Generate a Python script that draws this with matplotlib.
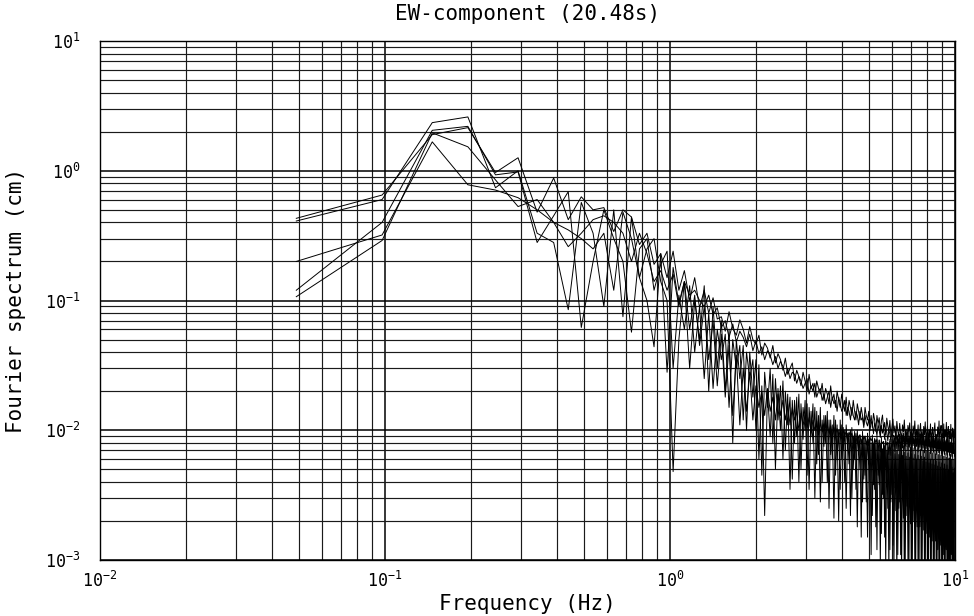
import numpy as np
import matplotlib
matplotlib.use('Agg')
import matplotlib.pyplot as plt
from matplotlib.ticker import LogLocator, NullFormatter

plt.rcParams['font.family'] = ['DejaVu Sans Mono']
plt.rcParams['mathtext.default'] = 'regular'

# record length 20.48 s -> frequency step 1/20.48 Hz
duration = 20.48
freq = np.arange(1, 205) / duration

# Fourier spectra (cm), five records
spec_a = [0.43, 0.65, 1.90, 2.15, 0.97, 1.26, 0.48, 0.88, 0.42, 0.63,
          0.50, 0.52, 0.34, 0.50, 0.44, 0.27, 0.33, 0.19, 0.23, 0.15,
          0.24, 0.12, 0.17, 0.10, 0.15, 0.088, 0.12, 0.080, 0.105, 0.072,
          0.075, 0.058, 0.082, 0.061, 0.054, 0.071, 0.060, 0.047, 0.063, 0.050,
          0.046, 0.054, 0.038, 0.047, 0.043, 0.036, 0.045, 0.033, 0.039, 0.035,
          0.029, 0.036, 0.027, 0.030, 0.033, 0.024, 0.029, 0.026, 0.022, 0.028,
          0.024, 0.020, 0.027, 0.021, 0.023, 0.018, 0.024, 0.021, 0.019, 0.023,
          0.017, 0.021, 0.019, 0.016, 0.022, 0.017, 0.019, 0.015, 0.020, 0.017,
          0.015, 0.019, 0.016, 0.014, 0.018, 0.013, 0.017, 0.015, 0.013, 0.017,
          0.014, 0.012, 0.016, 0.014, 0.012, 0.015, 0.013, 0.011, 0.015, 0.013,
          0.012, 0.014, 0.011, 0.013, 0.0105, 0.0135, 0.012, 0.0098, 0.013, 0.0112,
          0.0125, 0.0096, 0.0118, 0.0131, 0.0102, 0.0115, 0.0092, 0.0124, 0.0108, 0.0097,
          0.0119, 0.0091, 0.0106, 0.0122, 0.0095, 0.0108, 0.0086, 0.0117, 0.0099, 0.0089,
          0.0113, 0.0094, 0.0085, 0.0110, 0.0097, 0.0120, 0.0088, 0.0102, 0.0083, 0.0109,
          0.0095, 0.0114, 0.0087, 0.0099, 0.0081, 0.0108, 0.0093, 0.0118, 0.0084, 0.0101,
          0.0089, 0.0110, 0.0080, 0.0097, 0.0113, 0.0085, 0.0099, 0.0079, 0.0107, 0.0092,
          0.0116, 0.0083, 0.0096, 0.0108, 0.0078, 0.0101, 0.0088, 0.0112, 0.0082, 0.0095,
          0.0105, 0.0077, 0.0099, 0.0114, 0.0086, 0.0093, 0.0076, 0.0106, 0.0090, 0.0118,
          0.0081, 0.0097, 0.0109, 0.0079, 0.0094, 0.0087, 0.0112, 0.0075, 0.0100, 0.0091,
          0.0115, 0.0080, 0.0096, 0.0107, 0.0074, 0.0098, 0.0086, 0.0111, 0.0078, 0.0093,
          0.0104, 0.0076, 0.0099, 0.0088]

spec_b = [0.41, 0.60, 2.35, 2.60, 0.74, 1.00, 0.33, 0.28, 0.085, 0.57,
          0.33, 0.09, 0.50, 0.075, 0.44, 0.15, 0.10, 0.044, 0.23, 0.028,
          0.18, 0.095, 0.14, 0.11, 0.12, 0.10, 0.09, 0.11, 0.078, 0.088,
          0.062, 0.070, 0.052, 0.066, 0.048, 0.058, 0.052, 0.044, 0.055, 0.041,
          0.049, 0.039, 0.044, 0.035, 0.041, 0.038, 0.032, 0.037, 0.030, 0.034,
          0.031, 0.026, 0.030, 0.025, 0.028, 0.027, 0.023, 0.026, 0.024, 0.021,
          0.023, 0.025, 0.019, 0.022, 0.020, 0.023, 0.018, 0.020, 0.021, 0.017,
          0.019, 0.016, 0.018, 0.020, 0.015, 0.018, 0.016, 0.017, 0.014, 0.018,
          0.016, 0.014, 0.015, 0.017, 0.013, 0.015, 0.014, 0.012, 0.015, 0.013,
          0.012, 0.014, 0.013, 0.011, 0.014, 0.012, 0.0125, 0.0105, 0.013, 0.0115,
          0.0108, 0.0122, 0.0099, 0.0117, 0.0112, 0.0094, 0.0114, 0.0103, 0.0091, 0.0111,
          0.0100, 0.0088, 0.0109, 0.0095, 0.0104, 0.0085, 0.0102, 0.0097, 0.0083, 0.0100,
          0.0094, 0.0081, 0.0098, 0.0089, 0.0092, 0.0080, 0.0097, 0.0084, 0.0090, 0.0078,
          0.0093, 0.0086, 0.0077, 0.0091, 0.0083, 0.0089, 0.0076, 0.0090, 0.0081, 0.0087,
          0.0075, 0.0088, 0.0082, 0.0074, 0.0089, 0.0079, 0.0085, 0.0073, 0.0087, 0.0080,
          0.0084, 0.0072, 0.0086, 0.0078, 0.0083, 0.0071, 0.0085, 0.0077, 0.0082, 0.0070,
          0.0084, 0.0076, 0.0081, 0.0070, 0.0083, 0.0075, 0.0080, 0.0069, 0.0082, 0.0074,
          0.0079, 0.0068, 0.0081, 0.0073, 0.0078, 0.0067, 0.0080, 0.0072, 0.0077, 0.0067,
          0.0079, 0.0071, 0.0076, 0.0066, 0.0078, 0.0070, 0.0075, 0.0065, 0.0077, 0.0069,
          0.0074, 0.0065, 0.0076, 0.0068, 0.0073, 0.0064, 0.0075, 0.0067, 0.0072, 0.0063,
          0.0074, 0.0066, 0.0071, 0.0063]

spec_c = [0.20, 0.32, 1.67, 0.78, 0.71, 0.62, 0.50, 0.40, 0.26, 0.33,
          0.42, 0.45, 0.40, 0.33, 0.20, 0.33, 0.23, 0.14, 0.17, 0.12,
          0.16, 0.09, 0.14, 0.06, 0.11, 0.045, 0.09, 0.035, 0.07, 0.022,
          0.055, 0.018, 0.045, 0.013, 0.038, 0.011, 0.030, 0.014, 0.028, 0.012,
          0.022, 0.015, 0.020, 0.013, 0.021, 0.014, 0.018, 0.012, 0.019, 0.013,
          0.017, 0.012, 0.016, 0.011, 0.015, 0.012, 0.014, 0.010, 0.0135, 0.011,
          0.013, 0.0105, 0.0125, 0.0095, 0.012, 0.010, 0.0118, 0.0092, 0.0115, 0.0098,
          0.0112, 0.0090, 0.011, 0.0095, 0.0108, 0.0088, 0.0105, 0.0093, 0.0103, 0.0087,
          0.0101, 0.0086, 0.0100, 0.0091, 0.0098, 0.0084, 0.0097, 0.0089, 0.0095, 0.0083,
          0.0094, 0.0080, 0.0093, 0.0087, 0.0092, 0.0078, 0.0091, 0.0085, 0.0090, 0.0077,
          0.0089, 0.0076, 0.0088, 0.0083, 0.0087, 0.0072, 0.0086, 0.0081, 0.0085, 0.0070,
          0.0084, 0.0068, 0.0083, 0.0079, 0.0082, 0.0066, 0.0082, 0.0077, 0.0081, 0.0065,
          0.0082, 0.0064, 0.0085, 0.0074, 0.0088, 0.0068, 0.0090, 0.0072, 0.0092, 0.0070,
          0.0093, 0.0069, 0.0094, 0.0073, 0.0095, 0.0071, 0.0094, 0.0075, 0.0096, 0.0070,
          0.0095, 0.0074, 0.0097, 0.0069, 0.0094, 0.0076, 0.0096, 0.0071, 0.0093, 0.0075,
          0.0095, 0.0068, 0.0092, 0.0074, 0.0094, 0.0070, 0.0091, 0.0073, 0.0093, 0.0067,
          0.0090, 0.0072, 0.0092, 0.0069, 0.0089, 0.0074, 0.0091, 0.0066, 0.0088, 0.0071,
          0.0090, 0.0068, 0.0087, 0.0073, 0.0089, 0.0065, 0.0086, 0.0070, 0.0088, 0.0067,
          0.0085, 0.0072, 0.0087, 0.0064, 0.0084, 0.0069, 0.0086, 0.0066, 0.0083, 0.0071,
          0.0085, 0.0063, 0.0082, 0.0068, 0.0084, 0.0065, 0.0081, 0.0070, 0.0083, 0.0062,
          0.0080, 0.0067, 0.0082, 0.0064]

spec_d = [0.12, 0.40, 2.05, 2.20, 0.93, 0.98, 0.28, 0.45, 0.69, 0.062,
          0.20, 0.50, 0.30, 0.20, 0.057, 0.25, 0.30, 0.12, 0.19, 0.24,
          0.03, 0.11, 0.06, 0.13, 0.04, 0.09, 0.025, 0.08, 0.021, 0.06,
          0.035, 0.055, 0.015, 0.05, 0.03, 0.045, 0.012, 0.04, 0.025, 0.035,
          0.010, 0.032, 0.0045, 0.028, 0.015, 0.030, 0.008, 0.025, 0.012, 0.022,
          0.006, 0.020, 0.011, 0.018, 0.0042, 0.017, 0.009, 0.019, 0.005, 0.015,
          0.010, 0.016, 0.0035, 0.014, 0.008, 0.015, 0.0055, 0.013, 0.0028, 0.012,
          0.0075, 0.013, 0.004, 0.012, 0.0065, 0.011, 0.0021, 0.012, 0.006, 0.010,
          0.0035, 0.011, 0.007, 0.010, 0.0025, 0.0095, 0.0055, 0.010, 0.003, 0.009,
          0.006, 0.0095, 0.0018, 0.009, 0.005, 0.0085, 0.0028, 0.009, 0.0045, 0.008,
          0.0015, 0.0085, 0.004, 0.008, 0.0022, 0.0078, 0.0035, 0.0082, 0.0012, 0.0075,
          0.0038, 0.0078, 0.0016, 0.0072, 0.003, 0.0076, 0.0009, 0.0070, 0.0025, 0.0074,
          0.0012, 0.0068, 0.0032, 0.0072, 0.0008, 0.0066, 0.0024, 0.0070, 0.0011, 0.0065,
          0.0028, 0.0069, 0.0007, 0.0064, 0.0021, 0.0068, 0.0010, 0.0063, 0.0026, 0.0067,
          0.0006, 0.0062, 0.0019, 0.0066, 0.0009, 0.0061, 0.0024, 0.0065, 0.0007, 0.0060,
          0.0018, 0.0064, 0.0005, 0.0059, 0.0022, 0.0063, 0.0008, 0.0058, 0.0017, 0.0062,
          0.0006, 0.0057, 0.0020, 0.0061, 0.0004, 0.0056, 0.0015, 0.0060, 0.0007, 0.0055,
          0.0019, 0.0059, 0.0005, 0.0054, 0.0014, 0.0058, 0.0006, 0.0053, 0.0018, 0.0057,
          0.0004, 0.0052, 0.0013, 0.0056, 0.0006, 0.0051, 0.0017, 0.0055, 0.0004, 0.0050,
          0.0012, 0.0054, 0.0005, 0.0049, 0.0016, 0.0053, 0.0004, 0.0048, 0.0011, 0.0052,
          0.0005, 0.0047, 0.0015, 0.0051]

spec_e = [0.107, 0.29, 1.96, 1.53, 0.85, 0.53, 0.60, 0.40, 0.35, 0.30,
          0.25, 0.33, 0.12, 0.48, 0.30, 0.15, 0.25, 0.30, 0.14, 0.10,
          0.0048, 0.05, 0.14, 0.03, 0.10, 0.05, 0.13, 0.02, 0.09, 0.03,
          0.07, 0.02, 0.06, 0.008, 0.05, 0.025, 0.045, 0.010, 0.04, 0.018,
          0.035, 0.006, 0.022, 0.0022, 0.020, 0.009, 0.027, 0.005, 0.021, 0.010,
          0.024, 0.007, 0.019, 0.0035, 0.017, 0.008, 0.018, 0.004, 0.016, 0.0085,
          0.017, 0.0045, 0.015, 0.009, 0.016, 0.003, 0.014, 0.0065, 0.015, 0.004,
          0.013, 0.008, 0.014, 0.0025, 0.012, 0.006, 0.013, 0.0045, 0.011, 0.0020,
          0.012, 0.006, 0.0105, 0.004, 0.011, 0.0075, 0.0095, 0.0022, 0.0105, 0.005,
          0.0098, 0.0035, 0.010, 0.0065, 0.0092, 0.0015, 0.0098, 0.0042, 0.009, 0.0028,
          0.0095, 0.0055, 0.0088, 0.0011, 0.0092, 0.0038, 0.0086, 0.0018, 0.009, 0.0045,
          0.0084, 0.0009, 0.0088, 0.0032, 0.0082, 0.0015, 0.0086, 0.0040, 0.0080, 0.0008,
          0.0085, 0.0028, 0.0079, 0.0013, 0.0083, 0.0036, 0.0078, 0.0007, 0.0082, 0.0025,
          0.0077, 0.0011, 0.0081, 0.0033, 0.0076, 0.0006, 0.0080, 0.0022, 0.0075, 0.0010,
          0.0079, 0.0030, 0.0074, 0.0005, 0.0078, 0.0020, 0.0073, 0.0009, 0.0077, 0.0027,
          0.0072, 0.0006, 0.0076, 0.0018, 0.0071, 0.0004, 0.0075, 0.0024, 0.0070, 0.0008,
          0.0074, 0.0016, 0.0069, 0.0005, 0.0073, 0.0021, 0.0068, 0.0007, 0.0072, 0.0014,
          0.0067, 0.0004, 0.0071, 0.0019, 0.0066, 0.0006, 0.0070, 0.0012, 0.0065, 0.0004,
          0.0069, 0.0017, 0.0064, 0.0005, 0.0068, 0.0011, 0.0063, 0.0004, 0.0067, 0.0015,
          0.0062, 0.0005, 0.0066, 0.0010, 0.0061, 0.0003, 0.0065, 0.0013, 0.0060, 0.0005,
          0.0064, 0.0009, 0.0059, 0.0004]

spectra = [spec_a, spec_b, spec_c, spec_d, spec_e]

fig = plt.figure(figsize=(9.74, 6.16), dpi=100)
ax = fig.add_axes([0.1027, 0.0909, 0.8778, 0.8425])

for s in spectra:
    ax.plot(freq, s, color='black', lw=0.7)

ax.set_xscale('log')
ax.set_yscale('log')
ax.set_xlim(1e-2, 1e1)
ax.set_ylim(1e-3, 1e1)

ax.xaxis.set_major_locator(LogLocator(base=10, numticks=10))
ax.yaxis.set_major_locator(LogLocator(base=10, numticks=10))
ax.xaxis.set_minor_locator(LogLocator(base=10, subs=np.arange(2, 10), numticks=20))
ax.yaxis.set_minor_locator(LogLocator(base=10, subs=np.arange(2, 10), numticks=20))
ax.xaxis.set_minor_formatter(NullFormatter())
ax.yaxis.set_minor_formatter(NullFormatter())

ax.grid(True, which='major', color='black', lw=1.1)
ax.grid(True, which='minor', color='#1a1a1a', lw=0.85)
ax.tick_params(which='both', length=0, labelsize=12)
ax.tick_params(axis='x', pad=8)
ax.tick_params(axis='y', pad=14)
for sp in ax.spines.values():
    sp.set_linewidth(1.0)

ax.set_title('EW-component (20.48s)', fontsize=15, pad=15)
ax.set_xlabel('Frequency (Hz)', fontsize=15, labelpad=2)
ax.set_ylabel('Fourier spectrum (cm)', fontsize=15, labelpad=14)

fig.savefig('out.png', dpi=100)
